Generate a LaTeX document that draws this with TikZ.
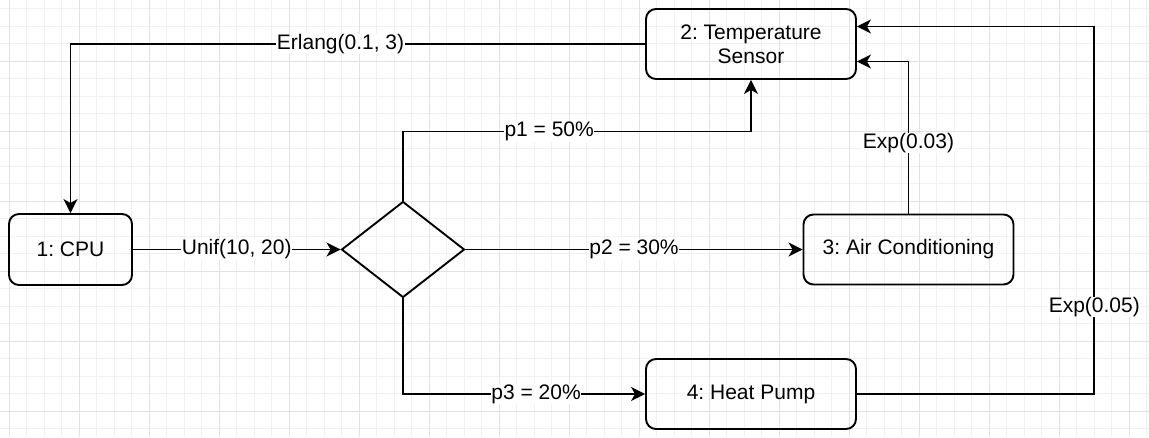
\documentclass[tikz,border=0pt]{standalone}
\usepackage{fontspec}
\setmainfont{Liberation Sans}
\usetikzlibrary{shapes.geometric,arrows.meta,calc}
\definecolor{gmin}{HTML}{F1F1F1}
\definecolor{gmaj}{HTML}{E2E2E2}
\frenchspacing
\begin{document}
\begin{tikzpicture}[x=1pt,y=-1pt,
  txt/.style={font=\fontsize{21}{24}\selectfont},
  box/.style={txt,draw,line width=1.9pt,rounded corners=10pt,minimum width=210pt,minimum height=70pt,align=center,inner sep=0pt},
  dec/.style={draw,diamond,line width=1.9pt,minimum width=123pt,minimum height=96pt,inner sep=0pt},
  arr/.style={line width=1.9pt,-{Stealth[length=14pt,width=14pt,inset=4pt]}},
  lbl/.style={txt,fill=white,inner sep=0.5pt,text=black},
  gridminor/.style={gmin,line width=1pt},
  gridmajor/.style={gmaj,line width=1pt}]
\useasboundingbox (0,0) rectangle (1149,437);
\fill[white] (0,0) rectangle (1149,437);
% grid
\foreach \i in {0,...,65} {\pgfmathsetmacro\xx{9.3+17.5*\i}\draw[gridminor] (\xx,0) -- (\xx,437);}
\foreach \j in {0,...,24} {\pgfmathsetmacro\yy{8.7+17.5*\j}\draw[gridminor] (0,\yy) -- (1149,\yy);}
\foreach \i in {0,...,16} {\pgfmathsetmacro\xx{9.3+70*\i}\draw[gridmajor] (\xx,0) -- (\xx,437);}
\foreach \j in {0,...,5} {\pgfmathsetmacro\yy{61.2+70*\j}\draw[gridmajor] (0,\yy) -- (1149,\yy);}
% nodes
\node[box,minimum width=123pt,minimum height=71pt] (cpu) at (70.5,249.5) {1: CPU};
\node[box] (temp) at (751,44) {2: Temperature\\Sensor};
\node[dec] (dia) at (403,249.5) {};
\node[box] (ac) at (908.5,249.5) {3: Air Conditioning};
\node[box] (hp) at (751,394) {4: Heat Pump};
% helper coordinates
\coordinate (p1y) at (0,131.5);
\coordinate (rx) at (1094.3,0);
\coordinate (t03) at ($(temp.east)+(0,17.5)$);
\coordinate (t05) at ($(temp.east)+(0,-17.5)$);
% connectors
\draw[arr] (temp.west) -| node[lbl,pos=0.265]{Erlang(0.1, 3)} (cpu.north);
\draw[arr] (cpu.east) -- node[lbl]{Unif(10, 20)} (dia.west);
\draw[arr] (dia.north) -- (dia.north |- p1y) -| node[lbl,pos=0.21]{p1 = 50\%} (temp.south);
\draw[arr] (dia.east) -- node[lbl]{p2 = 30\%} (ac.west);
\draw[arr] (dia.south) |- node[lbl,pos=0.775]{p3 = 20\%} (hp.west);
\draw[arr] (ac.north) |- node[lbl,pos=0.232]{Exp(0.03)} (t03);
\draw[arr] (hp.east) -- (hp.east -| rx) -- node[lbl,pos=0.237]{Exp(0.05)} (rx |- t05) -- (t05);
\end{tikzpicture}
\end{document}
